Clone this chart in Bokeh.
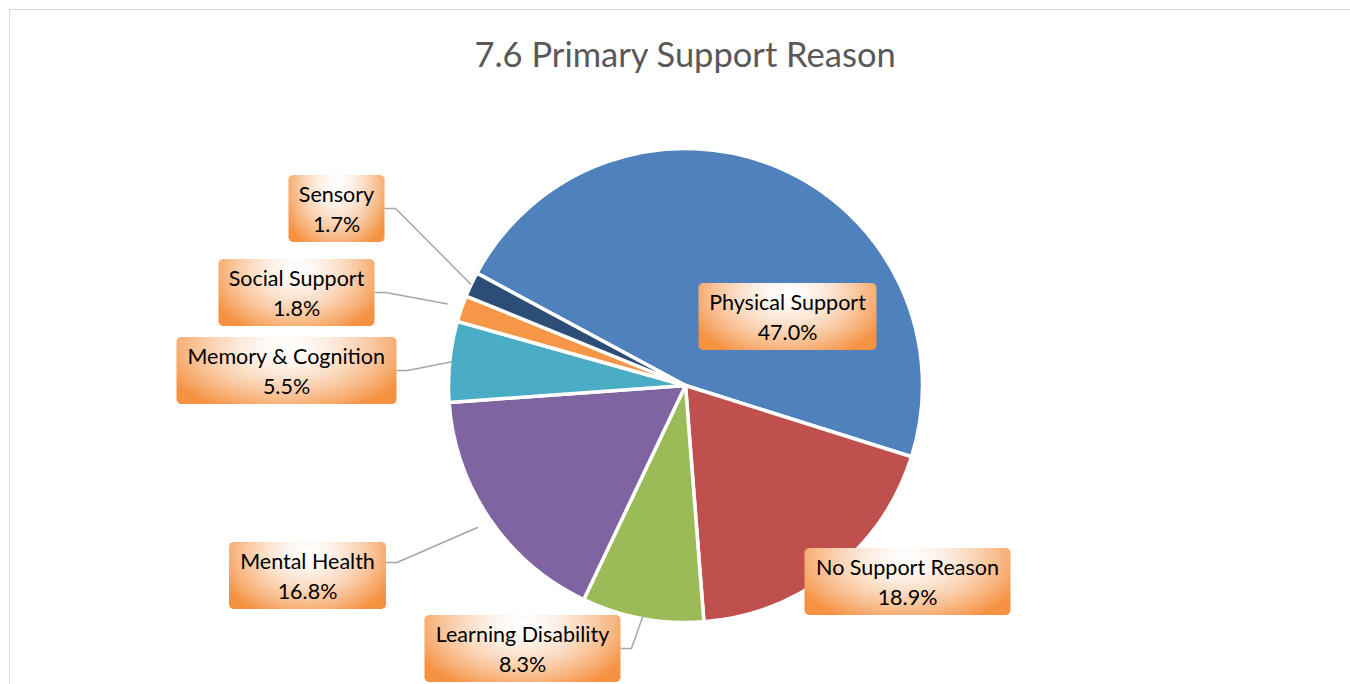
import numpy as np
from bokeh.plotting import figure
from bokeh.models import Range1d
from bokeh.core.properties import value
from bokeh.embed import file_html
from bokeh.resources import INLINE

# ---------------- data ----------------
title = "7.6 Primary Support Reason"
categories = ["Physical Support", "No Support Reason", "Learning Disability",
              "Mental Health", "Memory & Cognition", "Social Support", "Sensory"]
percentages = [47.0, 18.9, 8.3, 16.8, 5.5, 1.8, 1.7]
colors = ["#4F81BD", "#C0504D", "#9BBB59", "#8064A2", "#4BACC6", "#F79646", "#2C4D75"]

# ---------------- layout ----------------
W, H = 1350, 684
CX, CY = 685, 385          # pie centre, figure pixels from top-left
R = 237
START_DEG = 151.7          # first slice starts here, slices run clockwise
# label box centres relative to pie centre (pixels, screen y down)
label_dx = [102, 222, -163, -378, -399, -389, -349]
label_dy = [-69, 196, 263, 190, -15, -93, -177]
box_w = [178, 206, 196, 157, 220, 156, 96]
BOX_H = 67
has_leader = [False, False, True, True, True, True, True]
leader_attach = [0, 0, 0, -13, 0, 0, 0]
leader_r = [1.0, 1.0, 0.99, 1.06, 0.99, 1.06, 1.0]

p = figure(width=W, height=H, output_backend="svg", toolbar_location=None,
           x_range=Range1d(-CX, W - CX), y_range=Range1d(-(H - CY), CY),
           min_border=0)
p.axis.visible = False
p.grid.visible = False
p.outline_line_color = None
p.background_fill_color = "white"
p.border_fill_color = "white"

# chart border (top & left visible)
bx0, by0 = -CX + 9, CY - 9
p.segment(x0=[bx0, bx0], y0=[by0, by0], x1=[W - CX, bx0], y1=[by0, -(H - CY)],
          line_color="#D9D9D9", line_width=1)

total = sum(percentages)
fracs = [v / total for v in percentages]
cum = np.concatenate([[0], np.cumsum(fracs)[:-1]])
starts = [np.radians(START_DEG - c * 360) for c in cum]
ends = [np.radians(START_DEG - (c + f) * 360) for c, f in zip(cum, fracs)]
mids = [np.radians(START_DEG - (c + f / 2) * 360) for c, f in zip(cum, fracs)]

p.wedge(x=0, y=0, radius=R, start_angle=starts, end_angle=ends, direction="clock",
        fill_color=colors, line_color="white", line_width=3.5)

# leader lines
xs, ys = [], []
for i in range(len(categories)):
    if not has_leader[i]:
        continue
    ax = R * leader_r[i] * np.cos(mids[i])
    ay = R * leader_r[i] * np.sin(mids[i])
    bx_right = label_dx[i] + box_w[i] / 2
    by = -(label_dy[i] + leader_attach[i])
    xs.append([ax, bx_right + 11, bx_right])
    ys.append([ay, by, by])
p.multi_line(xs=xs, ys=ys, line_color="#A6A6A6", line_width=1.5)


def gradient_box(w, h):
    yy, xx = np.mgrid[0:h, 0:w]
    fx = (xx + 0.5) / w
    ft = 1 - (yy + 0.5) / h  # fraction from top (row 0 is bottom)
    d = np.sqrt(((fx - 0.5) / 0.60) ** 2 + ((ft - 0.15) / 1.05) ** 2)
    t = np.clip(d, 0, 1) ** 1.6
    white = np.array([255, 255, 255])
    orange = np.array([245, 146, 66])
    rgb = white[None, None, :] * (1 - t[..., None]) + orange[None, None, :] * t[..., None]
    alpha = np.full((h, w), 255, dtype=np.uint8)
    rad = 5
    px = xx + 0.5
    py = yy + 0.5
    cxs = np.clip(px, rad, w - rad)
    cys = np.clip(py, rad, h - rad)
    outside = (px - cxs) ** 2 + (py - cys) ** 2 > rad ** 2
    alpha[outside] = 0
    img = np.empty((h, w), dtype=np.uint32)
    view = img.view(dtype=np.uint8).reshape((h, w, 4))
    view[..., 0] = rgb[..., 0].astype(np.uint8)
    view[..., 1] = rgb[..., 1].astype(np.uint8)
    view[..., 2] = rgb[..., 2].astype(np.uint8)
    view[..., 3] = alpha
    return img


imgs, ix, iy, idw, idh = [], [], [], [], []
for i in range(len(categories)):
    imgs.append(gradient_box(box_w[i], BOX_H))
    ix.append(label_dx[i] - box_w[i] / 2)
    iy.append(-label_dy[i] - BOX_H / 2)
    idw.append(box_w[i])
    idh.append(BOX_H)
p.image_rgba(image=imgs, x=ix, y=iy, dw=idw, dh=idh)

lx = [label_dx[i] for i in range(len(categories))]
ly = [-label_dy[i] for i in range(len(categories))]
p.text(x=lx, y=[v + 15 for v in ly], text=categories, text_align="center", text_baseline="middle",
       text_font=value("Lato"), text_font_size="21.5px", text_color="#000000")
p.text(x=lx, y=[v - 15 for v in ly], text=[f"{v:.1f}%" for v in percentages],
       text_align="center", text_baseline="middle",
       text_font=value("Lato"), text_font_size="21.5px", text_color="#000000")

# title
p.text(x=[0], y=[CY - 53], text=[title], text_align="center", text_baseline="middle",
       text_font=value("Lato"), text_font_size="34.5px", text_color="#595959")

open("out.html", "w").write(file_html(p, INLINE))
